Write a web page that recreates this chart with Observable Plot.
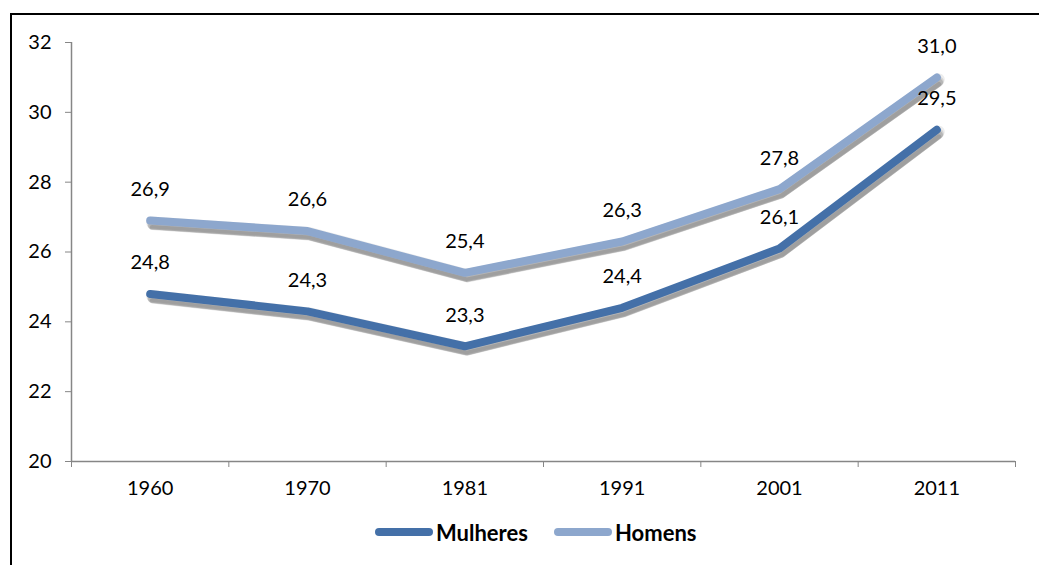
<!DOCTYPE html>
<html>
<head>
<meta charset="utf-8">
<script src="https://cdn.jsdelivr.net/npm/d3@7"></script>
<script src="https://cdn.jsdelivr.net/npm/@observablehq/plot@0.6"></script>
<style>
  html, body { margin: 0; padding: 0; background: #fff; }
  #wrap { position: relative; width: 1039px; height: 565px; overflow: hidden; font-family: Lato, "Open Sans", sans-serif; }
  #frame { position: absolute; left: 10px; top: 13px; width: 1100px; height: 600px; border-left: 2px solid #000; border-top: 2px solid #000; }
  #chart { position: absolute; left: 0; top: 0; }
  .item { position: absolute; top: 518px; height: 28px; display: flex; align-items: center; font-weight: bold; font-size: 22px; color: #000; }
  .sw { width: 58px; height: 8px; border-radius: 4px; margin-right: 3px; }
</style>
</head>
<body>
<div id="wrap">
  <div id="frame"></div>
  <div id="chart"></div>
  <div id="legend"></div>
</div>
<script>
const years = ["1960", "1970", "1981", "1991", "2001", "2011"];
const mulheres = [24.8, 24.3, 23.3, 24.4, 26.1, 29.5];
const homens = [26.9, 26.6, 25.4, 26.3, 27.8, 31.0];
const seriesNames = ["Mulheres", "Homens"];
const seriesColors = ["#4470a8", "#8da7cd"];
const yTicks = [20, 22, 24, 26, 28, 30, 32];

const rows = [];
years.forEach((yr, i) => rows.push({i, year: yr, v: mulheres[i], s: "Mulheres"}));
years.forEach((yr, i) => rows.push({i, year: yr, v: homens[i], s: "Homens"}));

const fmt = v => v.toFixed(1).replace(".", ",");
const axisGray = "#868686";

// soft drop shadow built from a few offset translucent strokes
const shadowMarks = [
  {dy: 2, w: 12, o: 0.07},
  {dy: 4, w: 10, o: 0.10},
  {dy: 5, w: 8, o: 0.14},
  {dy: 7, w: 5, o: 0.12}
].map(p => Plot.line(rows, {x: "i", y: "v", z: "s", stroke: "#000", strokeOpacity: p.o, strokeWidth: p.w, dx: 2, dy: p.dy, strokeLinecap: "round", strokeLinejoin: "round"}));

const plot = Plot.plot({
  width: 1039,
  height: 505,
  marginLeft: 71,
  marginRight: 24,
  marginTop: 42,
  marginBottom: 44,
  style: {fontFamily: "Lato, 'Open Sans', sans-serif", fontSize: "20px", color: "#000", background: "transparent", overflow: "visible"},
  x: {type: "linear", domain: [-0.5, years.length - 0.5], axis: null},
  y: {domain: [20, 32], axis: null},
  color: {domain: seriesNames, range: seriesColors},
  marks: [
    Plot.ruleY([20], {stroke: axisGray, strokeWidth: 1.5}),
    Plot.ruleX([-0.5], {stroke: axisGray, strokeWidth: 1.5}),
    Plot.axisY({ticks: yTicks, tickSize: 6, tickPadding: 14, stroke: axisGray, fill: "#000", label: null, tickFormat: d => String(d)}),
    Plot.axisX({ticks: d3.range(-0.5, years.length, 1), tickSize: 6, stroke: axisGray, label: null, tickFormat: () => ""}),
    Plot.axisX({ticks: d3.range(years.length), tickSize: 0, tickPadding: 19, fill: "#000", label: null, tickFormat: i => years[i]}),
    ...shadowMarks,
    Plot.line(rows, {x: "i", y: "v", z: "s", stroke: "s", strokeWidth: 8, strokeLinecap: "round", strokeLinejoin: "miter"}),
    Plot.text(rows, {x: "i", y: "v", text: d => fmt(d.v), dy: -31, fill: "#000", fontSize: 20})
  ]
});

document.getElementById("chart").appendChild(plot);

const legend = d3.select("#legend");
const legendLeft = [375, 554];
seriesNames.forEach((name, k) => {
  const it = legend.append("div").attr("class", "item").style("left", legendLeft[k] + "px");
  it.append("div").attr("class", "sw").style("background", seriesColors[k]);
  it.append("span").text(name);
});
</script>
</body>
</html>
